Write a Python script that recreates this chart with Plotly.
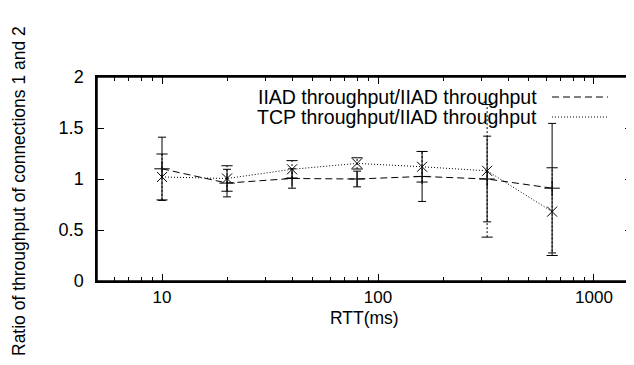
import plotly.graph_objects as go

# ---- data ----
rtt = [10, 20, 40, 80, 160, 320, 640]
iiad_ratio = [1.10, 0.96, 1.005, 1.0, 1.025, 1.0, 0.91]
iiad_err = [0.31, 0.135, 0.095, 0.077, 0.245, 0.42, 0.635]
tcp_ratio = [1.02, 1.005, 1.095, 1.153, 1.12, 1.08, 0.68]
tcp_err = [0.225, 0.125, 0.085, 0.055, 0.15, 0.65, 0.43]
series_names = ["IIAD throughput/IIAD throughput", "TCP throughput/IIAD throughput"]
x_tick_vals = [10, 100, 1000]
y_tick_vals = [0, 0.5, 1, 1.5, 2]
x_title = "RTT(ms)"
y_title = "Ratio of throughput of connections 1 and 2"

FONT = "Liberation Sans, Arial, Helvetica, sans-serif"

fig = go.Figure()

# IIAD series: dashed line with + markers and error bars
fig.add_trace(go.Scatter(
    x=rtt, y=iiad_ratio, mode="lines+markers", name=series_names[0],
    line=dict(color="black", width=1, dash="7px,4px"),
    marker=dict(symbol="cross-thin", size=11, line=dict(color="black", width=1), color="black"),
    error_y=dict(type="data", array=iiad_err, visible=True, color="black", thickness=1, width=4),
    showlegend=False,
))

# TCP series: dotted error bars built from the data arrays
seg_x, seg_y, cap_x, cap_y = [], [], [], []
for xv, yv, ev in zip(rtt, tcp_ratio, tcp_err):
    seg_x += [xv, xv, None]
    seg_y += [yv - ev, yv + ev, None]
    cap_x += [xv, xv]
    cap_y += [yv - ev, yv + ev]
fig.add_trace(go.Scatter(
    x=seg_x, y=seg_y, mode="lines", line=dict(color="black", width=1, dash="2px,2px"),
    showlegend=False, hoverinfo="skip",
))
fig.add_trace(go.Scatter(
    x=cap_x, y=cap_y, mode="markers",
    marker=dict(symbol="line-ew", size=8, line=dict(color="black", width=1)),
    showlegend=False, hoverinfo="skip",
))
fig.add_trace(go.Scatter(
    x=rtt, y=tcp_ratio, mode="lines+markers", name=series_names[1],
    line=dict(color="black", width=1, dash="1px,2px"),
    marker=dict(symbol="x-thin", size=10, line=dict(color="black", width=1), color="black"),
    showlegend=False,
))

# The page body adds an 8px margin, so the figure is laid out in page coords minus 8.
OFF = 8
W, H = 634 - OFF, 365 - OFF
L, R, T, B = 89, 2, 69, 84
pw, ph = W - L - R, H - T - B

def px_x(page_x):
    return (page_x - OFF - L) / pw

def px_y(page_y):
    return (H - B - (page_y - OFF)) / ph

# legend (text on left, line sample on right, as in the original)
legend_rows = [(97, "7px,4px"), (117, "1px,2px")]
for name, (yy, dash) in zip(series_names, legend_rows):
    fig.add_annotation(
        x=px_x(539), y=px_y(yy), xref="paper", yref="paper", text=name,
        showarrow=False, xanchor="right", yanchor="middle",
        font=dict(family=FONT, size=19.5, color="black"),
    )
    fig.add_shape(
        type="line", xref="paper", yref="paper",
        x0=px_x(552), x1=px_x(608), y0=px_y(yy), y1=px_y(yy),
        line=dict(color="black", width=1, dash=dash),
    )

# frame
fig.add_shape(type="rect", xref="paper", yref="paper", x0=0, x1=1, y0=0, y1=1,
              line=dict(color="black", width=1.5), layer="above")

# axis titles
fig.add_annotation(
    x=px_x(19), y=px_y(358), xref="paper", yref="paper", text=y_title,
    textangle=-90, showarrow=False, xanchor="center", yanchor="bottom",
    font=dict(family=FONT, size=17.5, color="black"),
)
fig.add_annotation(
    x=px_x(364), y=px_y(318), xref="paper", yref="paper", text=x_title,
    showarrow=False, xanchor="center", yanchor="middle",
    font=dict(family=FONT, size=17.5, color="black"),
)

fig.update_layout(
    width=W, height=H,
    margin=dict(l=L, r=R, t=T, b=B, pad=0, autoexpand=False),
    paper_bgcolor="white", plot_bgcolor="white",
    showlegend=False,
    font=dict(family=FONT, size=18, color="black"),
    xaxis=dict(
        type="log", range=[0.699, 3.176], automargin=False,
        tickvals=x_tick_vals, ticktext=[str(v) for v in x_tick_vals],
        ticks="inside", ticklen=7, tickwidth=1, tickcolor="black",
        minor=dict(ticks="inside", ticklen=4, tickwidth=1, tickcolor="black", dtick="D1", showgrid=False),
        showline=True, linecolor="black", linewidth=1.5, mirror="allticks",
        showgrid=False, zeroline=False, ticklabelstandoff=0,
        tickfont=dict(family=FONT, size=17),
    ),
    yaxis=dict(
        range=[0, 2], tickvals=y_tick_vals, ticktext=["0", "0.5", "1", "1.5", "2"],
        automargin=False,
        ticks="inside", ticklen=7, tickwidth=1, tickcolor="black",
        showline=True, linecolor="black", linewidth=1.5, mirror="allticks",
        showgrid=False, zeroline=False, ticklabelstandoff=8,
        tickfont=dict(family=FONT, size=18),
    ),
)

fig.write_html("out.html")
